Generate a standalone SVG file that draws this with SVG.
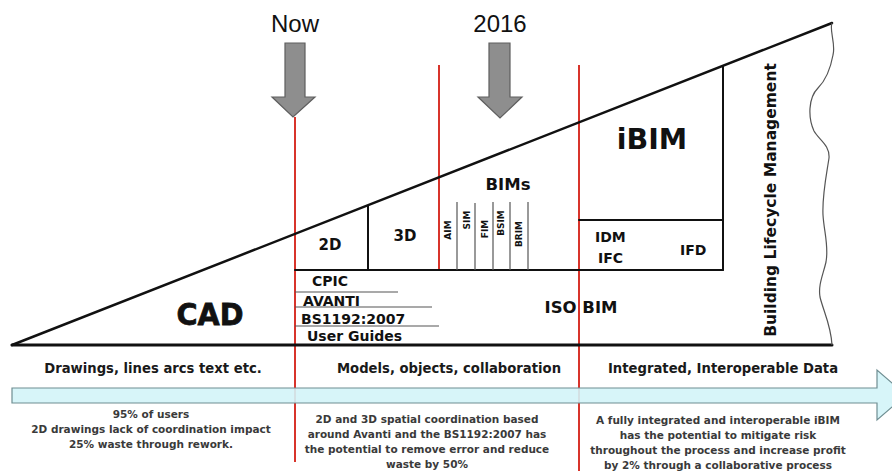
<svg xmlns="http://www.w3.org/2000/svg" width="892" height="471" viewBox="0 0 892 471">
  <style>
    .ink { stroke: #111; fill: none; stroke-linecap: round; }
    .thin { stroke: #555; stroke-width: 1.2; fill: none; }
    .red { stroke: #d8342b; stroke-width: 2; fill: none; }
    .b { font-family: "DejaVu Sans", Verdana, sans-serif; font-weight: bold; fill: #111; }
    .note { font-family: "DejaVu Sans", Verdana, sans-serif; font-weight: bold; fill: #3a3a3a; font-size: 10.5px; text-anchor: middle; }
    .head { font-family: "DejaVu Sans", Verdana, sans-serif; font-weight: bold; fill: #1a1a1a; font-size: 13.2px; text-anchor: middle; }
    .time { font-family: "Liberation Sans", Arial, sans-serif; font-size: 24px; fill: #111; text-anchor: middle; }
    .marker { fill: #8e8e8e; stroke: #5e5e5e; stroke-width: 1.2; }
    .mid { text-anchor: middle; }
  </style>
  <rect width="892" height="471" fill="#fff"/>

  <!-- phase dividers -->
  <g id="dividers">
    <line class="red" x1="295" y1="117" x2="295" y2="462"/>
    <line class="red" x1="439" y1="65" x2="439" y2="270"/>
    <line class="red" x1="579" y1="65" x2="579" y2="471"/>
  </g>

  <!-- timeline band -->
  <g id="timeline">
    <polygon points="12,388 877,388 877,370 906,395 877,420 877,403 12,403" fill="#d3f4f8" fill-opacity="0.9" stroke="#6f8e92" stroke-width="1.2"/>
  </g>

  <!-- outline of the growth wedge -->
  <g id="connectors">
    <line class="ink" stroke-width="2.5" x1="12" y1="345" x2="832" y2="23"/>
    <line class="ink" stroke-width="3" x1="12" y1="345" x2="832" y2="345"/>
    <path class="thin" stroke="#444" stroke-width="1.5" d="M832,23 C829,30 836,44 833,55 C831,66 826,80 818,88 C808,98 808,118 814,131 C819,140 830,145 829,158 C827,172 822,195 823,215 C824,232 829,246 826,262 C823,275 818,285 820,297 C823,310 831,325 832,345"/>
    <line class="ink" stroke-width="2" x1="295" y1="270" x2="723" y2="270"/>
    <line class="ink" stroke-width="2" x1="368" y1="206" x2="368" y2="270"/>
    <line class="ink" stroke-width="2" x1="579" y1="220" x2="723" y2="220"/>
    <line class="ink" stroke-width="2" x1="723" y1="66" x2="723" y2="270"/>
    <line class="thin" x1="457" y1="202" x2="457" y2="270"/>
    <line class="thin" x1="475" y1="203" x2="475" y2="270"/>
    <line class="thin" x1="493" y1="202" x2="493" y2="270"/>
    <line class="thin" x1="510" y1="202" x2="510" y2="270"/>
    <line class="thin" x1="528" y1="202" x2="528" y2="270"/>
    <line class="thin" x1="295" y1="292" x2="398" y2="292"/>
    <line class="thin" x1="295" y1="307" x2="432" y2="307"/>
    <line class="thin" x1="295" y1="326" x2="439" y2="326"/>
  </g>

  <!-- time markers -->
  <g id="now">
    <text class="time" x="295" y="32">Now</text>
    <polygon class="marker" points="285,43 305,43 305,97 315,97 293,117 272,97 285,97"/>
  </g>
  <g id="y2016">
    <text class="time" x="500" y="32">2016</text>
    <polygon class="marker" points="489,43 510,43 510,97 522,97 500,118 478,97 489,97"/>
  </g>

  <g id="cad">
    <text class="b mid" x="210" y="325" font-size="31" textLength="67" lengthAdjust="spacingAndGlyphs" stroke="#111" stroke-width="0.8">CAD</text>
  </g>
  <g id="n2d">
    <text class="b mid" x="330" y="250" font-size="15">2D</text>
  </g>
  <g id="n3d">
    <text class="b mid" x="405" y="241" font-size="15">3D</text>
  </g>
  <g id="bims">
    <text class="b mid" x="508" y="190" font-size="16.5">BIMs</text>
    <text class="b mid" font-size="9" transform="translate(448,230) rotate(-90)" y="3">AIM</text>
    <text class="b mid" font-size="9" transform="translate(467,220) rotate(-90)" y="3">SIM</text>
    <text class="b mid" font-size="9" transform="translate(485,229) rotate(-90)" y="3">FIM</text>
    <text class="b mid" font-size="9" transform="translate(501,223) rotate(-90)" y="3">BSIM</text>
    <text class="b mid" font-size="9" transform="translate(519,234) rotate(-90)" y="3">BRIM</text>
  </g>
  <g id="standards">
    <text class="b" x="312" y="286" font-size="14">CPIC</text>
    <text class="b" x="303" y="306" font-size="14">AVANTI</text>
    <text class="b" x="301" y="324" font-size="14">BS1192:2007</text>
    <text class="b" x="307" y="341" font-size="14">User Guides</text>
  </g>
  <g id="isobim">
    <text class="b mid" x="581" y="313" font-size="16.5">ISO BIM</text>
  </g>
  <g id="ibim">
    <text class="b mid" x="652" y="149" font-size="28.5">iBIM</text>
  </g>
  <g id="idm">
    <text class="b" x="595" y="242" font-size="14">IDM</text>
    <text class="b" x="598" y="263" font-size="14">IFC</text>
    <text class="b" x="680" y="255" font-size="14">IFD</text>
  </g>
  <g id="blm">
    <text class="b mid" font-size="15.5" transform="translate(776,200) rotate(-90)">Building Lifecycle Management</text>
  </g>

  <!-- phase headings -->
  <g id="phases">
    <text class="head" x="153" y="373">Drawings, lines arcs text etc.</text>
    <text class="head" x="449" y="373">Models, objects, collaboration</text>
    <text class="head" x="723" y="373">Integrated, Interoperable Data</text>
  </g>

  <!-- phase notes -->
  <g id="notes">
    <text class="note" x="151" y="418">95% of users</text>
    <text class="note" x="151" y="433">2D drawings lack of coordination impact</text>
    <text class="note" x="151" y="448">25% waste through rework.</text>
    <text class="note" x="427" y="423">2D and 3D spatial coordination based</text>
    <text class="note" x="427" y="438">around Avanti and the BS1192:2007 has</text>
    <text class="note" x="427" y="453">the potential to remove error and reduce</text>
    <text class="note" x="427" y="468">waste by 50%</text>
    <text class="note" x="718" y="424">A fully integrated and interoperable iBIM</text>
    <text class="note" x="718" y="439">has the potential to mitigate risk</text>
    <text class="note" x="718" y="454">throughout the process and increase profit</text>
    <text class="note" x="718" y="469">by 2% through a collaborative process</text>
  </g>
</svg>
